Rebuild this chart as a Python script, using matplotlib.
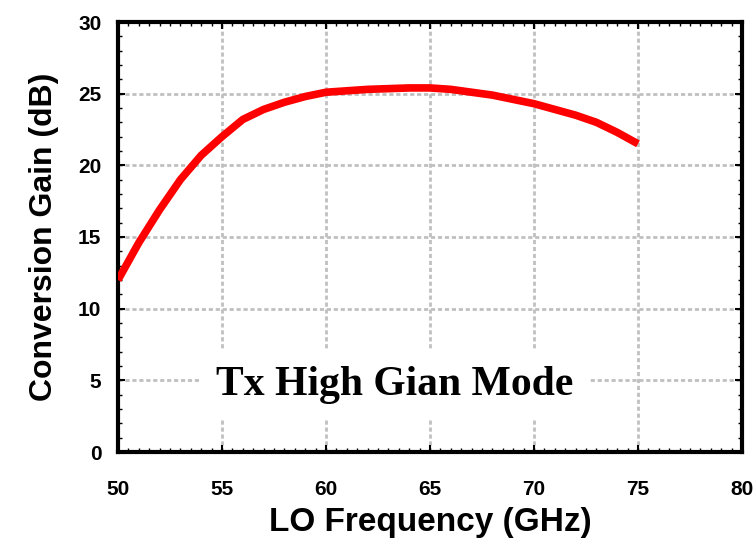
import numpy as np
import matplotlib.pyplot as plt
from matplotlib.ticker import MultipleLocator

# LO frequency sweep and measured conversion gain
freq = [50, 51, 52, 53, 54, 55, 56, 57, 58, 59, 60, 62, 64, 65, 66, 67, 68, 69, 70, 71, 72, 73, 74, 75]
gain = [12.0, 14.6, 16.9, 19.0, 20.7, 22.0, 23.2, 23.9, 24.4, 24.8, 25.1, 25.3, 25.4, 25.4, 25.3, 25.1,
        24.9, 24.6, 24.3, 23.9, 23.5, 23.0, 22.3, 21.5]
xticks = [50, 55, 60, 65, 70, 75, 80]
yticks = [0, 5, 10, 15, 20, 25, 30]

plt.rcParams['font.family'] = ['Liberation Sans', 'DejaVu Sans']

fig = plt.figure(figsize=(7.53, 5.51), dpi=100)
ax = fig.add_axes([118/753, 1-452/551, 624/753, 430/551])

ax.plot(freq, gain, color='#ff0000', lw=5.5, solid_capstyle='butt', zorder=3)

ax.set_xlim(50, 80)
ax.set_ylim(0, 30)
ax.set_xticks(xticks)
ax.set_yticks(yticks)
ax.xaxis.set_minor_locator(MultipleLocator(0.5))
ax.yaxis.set_minor_locator(MultipleLocator(1))
ax.tick_params(which='both', direction='in', top=True, right=True)
ax.tick_params(which='major', length=5, width=1.5, labelsize=15, pad=20)
ax.tick_params(axis='y', which='major', pad=12)
ax.tick_params(which='minor', length=3, width=1)
for lbl in ax.get_xticklabels() + ax.get_yticklabels():
    lbl.set_fontweight('bold')

ax.grid(True, which='major', color='#c0c0c0', lw=2, ls=(0, (1.5, 1)), zorder=1)
for s in ax.spines.values():
    s.set_linewidth(3)

ax.set_xlabel('LO Frequency (GHz)', fontsize=24, fontweight='bold', labelpad=6)
ax.set_ylabel('Conversion Gain (dB)', fontsize=23, fontweight='bold', labelpad=14)

ax.text(63.3, 4.7, 'Tx High Gian Mode', family='Liberation Serif', fontweight='bold',
        fontsize=30, ha='center', va='center', zorder=4,
        bbox=dict(facecolor='white', edgecolor='none', pad=12))

fig.savefig('out.png', dpi=100)
